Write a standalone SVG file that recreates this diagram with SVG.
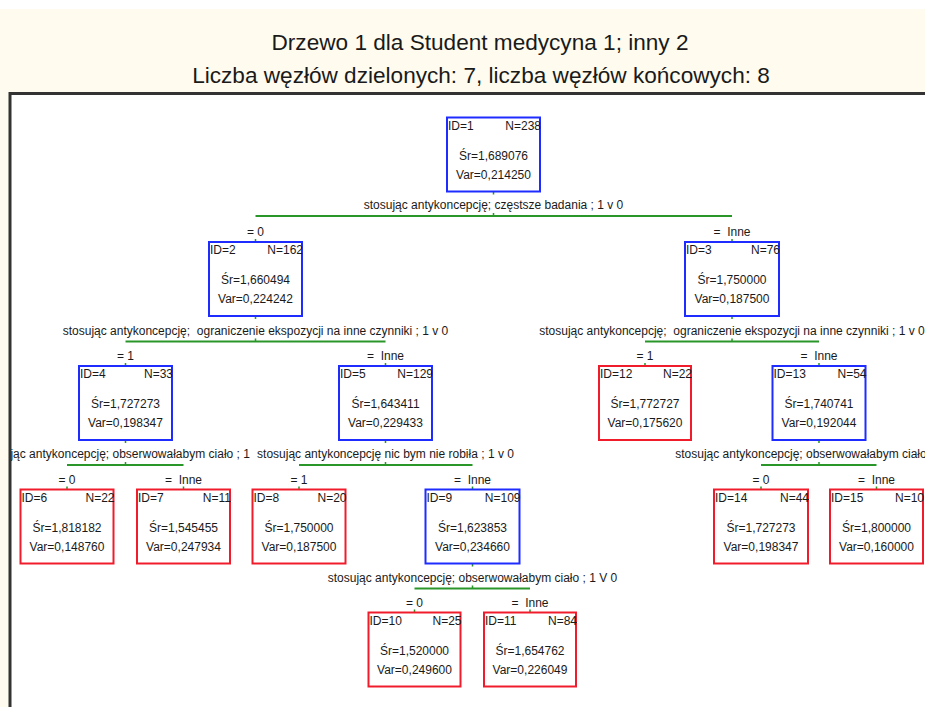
<svg xmlns="http://www.w3.org/2000/svg" width="925" height="707" viewBox="0 0 925 707">
<style>
text{font-family:"Liberation Sans",Arial,sans-serif;fill:#1a1a1a;white-space:pre}
.title{font-size:22.6px;text-anchor:middle}
.t{font-size:12px}
.c{text-anchor:middle}
.e{text-anchor:end}
.bb{fill:#fff;stroke:#1f2cff;stroke-width:2}
.rb{fill:#fff;stroke:#f01c2c;stroke-width:2}
.ln{stroke:#2a962a;stroke-width:2;fill:none}
.tk{stroke:#2a962a;stroke-width:1.5;fill:none}
</style>
<defs>
<clipPath id="plot"><rect x="11" y="95" width="920" height="620"/></clipPath>
</defs>
<rect x="0" y="0" width="925" height="707" fill="#ffffff"/>
<rect x="0" y="9" width="925" height="698" fill="#fffcef"/>
<text class="title" x="480" y="50">Drzewo 1 dla Student medycyna 1; inny 2</text>
<text class="title" x="481" y="83">Liczba węzłów dzielonych: 7, liczba węzłów końcowych: 8</text>
<rect x="10" y="93.5" width="930" height="630" fill="#ffffff" stroke="#333" stroke-width="3"/>
<g clip-path="url(#plot)">
<g id="connectors">
<path class="ln" d="M255.5 216H732M125.5 341.5H385.5M645 341.5H819M67 465H183.5M299 465H472.5M761 465H876.5M414.5 588.5H530"/>
<path class="tk" d="M493.5 191.5v3M493.5 213v3M255.5 239v3M732 239v3M255.5 316v3M255.5 338.5v3M125.5 363v3M385.5 363v3M732 316v3M732 338.5v3M645 363v3M819 363v3M125.5 440v3M125.5 462v3M67 486.5v3M183.5 486.5v3M385.5 440v3M385.5 462v3M299 486.5v3M472.5 486.5v3M819 440v3M819 462v3M761 486.5v3M876.5 486.5v3M472.5 563.5v3M472.5 585.5v3M414.5 609.5v3M530 609.5v3"/>
</g>
<g id="split-labels">
<text class="t c" x="493.5" y="209">stosując antykoncepcję; częstsze badania ; 1 v 0</text>
<text class="t c" x="255.5" y="334.5">stosując antykoncepcję;  ograniczenie ekspozycji na inne czynniki ; 1 v 0</text>
<text class="t c" x="732" y="334.5">stosując antykoncepcję;  ograniczenie ekspozycji na inne czynniki ; 1 v 0</text>
<text class="t c" x="125.5" y="458">stosując antykoncepcję; obserwowałabym ciało ; 1 v 0</text>
<rect x="251" y="446" width="270" height="14" fill="#fff"/>
<text class="t c" x="385.5" y="458">stosując antykoncepcję nic bym nie robiła ; 1 v 0</text>
<text class="t c" x="819" y="458">stosując antykoncepcję; obserwowałabym ciało ; 1 v 0</text>
<text class="t c" x="472.5" y="581.5">stosując antykoncepcję; obserwowałabym ciało ; 1 V 0</text>
</g>
<g id="branch-labels">
<text class="t c" x="255.5" y="236">= 0</text>
<text class="t c" x="732" y="236">=  Inne</text>
<text class="t c" x="125.5" y="360">= 1</text>
<text class="t c" x="385.5" y="360">=  Inne</text>
<text class="t c" x="645" y="360">= 1</text>
<text class="t c" x="819" y="360">=  Inne</text>
<text class="t c" x="67" y="483.5">= 0</text>
<text class="t c" x="183.5" y="483.5">=  Inne</text>
<text class="t c" x="299" y="483.5">= 1</text>
<text class="t c" x="472.5" y="483.5">=  Inne</text>
<text class="t c" x="761" y="483.5">= 0</text>
<text class="t c" x="876.5" y="483.5">=  Inne</text>
<text class="t c" x="414.5" y="606.5">= 0</text>
<text class="t c" x="530" y="606.5">=  Inne</text>
</g>
<g id="node1"><rect class="bb" x="447" y="117.5" width="93" height="74"/><text class="t" x="448" y="129.5">ID=1</text><text class="t e" x="541" y="129.5">N=238</text><text class="t c" x="493.5" y="159.5">Śr=1,689076</text><text class="t c" x="493.5" y="178.5">Var=0,214250</text></g>
<g id="node2"><rect class="bb" x="209" y="242" width="93" height="74"/><text class="t" x="210" y="254">ID=2</text><text class="t e" x="303" y="254">N=162</text><text class="t c" x="255.5" y="284">Śr=1,660494</text><text class="t c" x="255.5" y="303">Var=0,224242</text></g>
<g id="node3"><rect class="bb" x="685" y="242" width="94" height="74"/><text class="t" x="686" y="254">ID=3</text><text class="t e" x="780" y="254">N=76</text><text class="t c" x="732" y="284">Śr=1,750000</text><text class="t c" x="732" y="303">Var=0,187500</text></g>
<g id="node4"><rect class="bb" x="79" y="366" width="93" height="74"/><text class="t" x="80" y="378">ID=4</text><text class="t e" x="173" y="378">N=33</text><text class="t c" x="125.5" y="408">Śr=1,727273</text><text class="t c" x="125.5" y="427">Var=0,198347</text></g>
<g id="node5"><rect class="bb" x="339" y="366" width="93" height="74"/><text class="t" x="340" y="378">ID=5</text><text class="t e" x="433" y="378">N=129</text><text class="t c" x="385.5" y="408">Śr=1,643411</text><text class="t c" x="385.5" y="427">Var=0,229433</text></g>
<g id="node12"><rect class="rb" x="599" y="366" width="92" height="74"/><text class="t" x="600" y="378">ID=12</text><text class="t e" x="692" y="378">N=22</text><text class="t c" x="645" y="408">Śr=1,772727</text><text class="t c" x="645" y="427">Var=0,175620</text></g>
<g id="node13"><rect class="bb" x="772.5" y="366" width="93" height="74"/><text class="t" x="773.5" y="378">ID=13</text><text class="t e" x="866.5" y="378">N=54</text><text class="t c" x="819" y="408">Śr=1,740741</text><text class="t c" x="819" y="427">Var=0,192044</text></g>
<g id="node6"><rect class="rb" x="20.5" y="489.5" width="93" height="74"/><text class="t" x="21.5" y="501.5">ID=6</text><text class="t e" x="114.5" y="501.5">N=22</text><text class="t c" x="67" y="531.5">Śr=1,818182</text><text class="t c" x="67" y="550.5">Var=0,148760</text></g>
<g id="node7"><rect class="rb" x="137" y="489.5" width="93" height="74"/><text class="t" x="138" y="501.5">ID=7</text><text class="t e" x="231" y="501.5">N=11</text><text class="t c" x="183.5" y="531.5">Śr=1,545455</text><text class="t c" x="183.5" y="550.5">Var=0,247934</text></g>
<g id="node8"><rect class="rb" x="252.5" y="489.5" width="93" height="74"/><text class="t" x="253.5" y="501.5">ID=8</text><text class="t e" x="346.5" y="501.5">N=20</text><text class="t c" x="299" y="531.5">Śr=1,750000</text><text class="t c" x="299" y="550.5">Var=0,187500</text></g>
<g id="node9"><rect class="bb" x="425.5" y="489.5" width="94" height="74"/><text class="t" x="426.5" y="501.5">ID=9</text><text class="t e" x="520.5" y="501.5">N=109</text><text class="t c" x="472.5" y="531.5">Śr=1,623853</text><text class="t c" x="472.5" y="550.5">Var=0,234660</text></g>
<g id="node14"><rect class="rb" x="714" y="489.5" width="94" height="74"/><text class="t" x="715" y="501.5">ID=14</text><text class="t e" x="809" y="501.5">N=44</text><text class="t c" x="761" y="531.5">Śr=1,727273</text><text class="t c" x="761" y="550.5">Var=0,198347</text></g>
<g id="node15"><rect class="rb" x="830" y="489.5" width="93" height="74"/><text class="t" x="831" y="501.5">ID=15</text><text class="t e" x="924" y="501.5">N=10</text><text class="t c" x="876.5" y="531.5">Śr=1,800000</text><text class="t c" x="876.5" y="550.5">Var=0,160000</text></g>
<g id="node10"><rect class="rb" x="368.5" y="612.5" width="92" height="74"/><text class="t" x="369.5" y="624.5">ID=10</text><text class="t e" x="461.5" y="624.5">N=25</text><text class="t c" x="414.5" y="654.5">Śr=1,520000</text><text class="t c" x="414.5" y="673.5">Var=0,249600</text></g>
<g id="node11"><rect class="rb" x="484" y="612.5" width="92" height="74"/><text class="t" x="485" y="624.5">ID=11</text><text class="t e" x="577" y="624.5">N=84</text><text class="t c" x="530" y="654.5">Śr=1,654762</text><text class="t c" x="530" y="673.5">Var=0,226049</text></g>
</g>
</svg>
